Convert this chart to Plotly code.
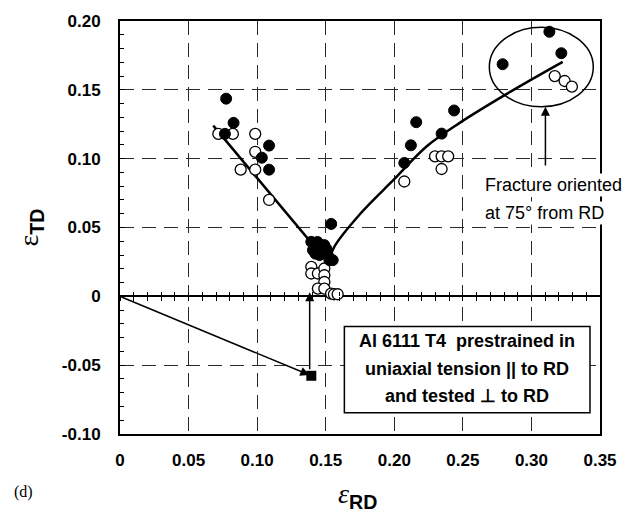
import plotly.graph_objects as go

# ---------------- data ----------------
filled_x = [0.0774, 0.0828, 0.0765, 0.1087, 0.1034, 0.1087, 0.1540,
            0.1395, 0.1431, 0.1467, 0.1490, 0.1515, 0.1551, 0.1407, 0.1490, 0.1527,
            0.1425, 0.1455, 0.1505, 0.1440,
            0.2790, 0.3131, 0.3218, 0.2160, 0.2436, 0.2345, 0.2121, 0.2073]
filled_y = [0.1436, 0.1260, 0.1180, 0.1095, 0.1007, 0.0920, 0.0526,
            0.0396, 0.0372, 0.0348, 0.0323, 0.0299, 0.0263, 0.0336, 0.0372, 0.0263,
            0.0310, 0.0300, 0.0345, 0.0395,
            0.1686, 0.1922, 0.1766, 0.1265, 0.1350, 0.1182, 0.1097, 0.0969]

open_x = [0.0717, 0.0823, 0.0986, 0.0986, 0.0880, 0.0986, 0.1087,
          0.1395, 0.1395, 0.1443, 0.1490, 0.1490, 0.1490, 0.1443, 0.1490, 0.1539, 0.1560, 0.1587,
          0.2073, 0.2297, 0.2345, 0.2393, 0.2345, 0.3170, 0.3242, 0.3295]
open_y = [0.1180, 0.1180, 0.1180, 0.1050, 0.0920, 0.0920, 0.0700,
          0.0214, 0.0166, 0.0166, 0.0202, 0.0153, 0.0104, 0.0056, 0.0056, 0.0020, 0.0015, 0.0015,
          0.0834, 0.1017, 0.1017, 0.1017, 0.0925, 0.1600, 0.1564, 0.1523]

left_fit_x = [0.068, 0.152]
left_fit_y = [0.124, 0.024]

right_fit_x = [0.152, 0.1563, 0.1756, 0.1996, 0.2237, 0.2477, 0.2814, 0.3228]
right_fit_y = [0.024, 0.0360, 0.0604, 0.0847, 0.1090, 0.1260, 0.1467, 0.1703]

prestrain_x = [0.1395]
prestrain_y = [-0.0577]

x_ticks = [0, 0.05, 0.10, 0.15, 0.20, 0.25, 0.30, 0.35]
x_labels = ["0", "0.05", "0.10", "0.15", "0.20", "0.25", "0.30", "0.35"]
y_ticks = [-0.10, -0.05, 0, 0.05, 0.10, 0.15, 0.20]
y_labels = ["-0.10", "-0.05", "0", "0.05", "0.10", "0.15", "0.20"]

box_lines = ["Al 6111 T4  prestrained in", "uniaxial tension || to RD", "and tested \u22a5 to RD"]
box_line_y = [-0.0322, -0.0529, -0.0723]
fracture_lines = ["Fracture oriented", "at 75\u00b0 from RD"]
fracture_line_y = [0.0810, 0.0606]

fracture_ellipse = dict(x0=0.2693, x1=0.3451, y0=0.1377, y1=0.1954)
info_box = dict(x0=0.1636, x1=0.3427, y0=-0.0845, y1=-0.0219)

# ---------------- figure ----------------
SANS = "Liberation Sans, Arial, sans-serif"
SERIF = "Liberation Serif, Times New Roman, serif"
TICKFONT = dict(family=SANS, size=17, color="black", weight="bold")

fig = go.Figure()

fig.add_trace(go.Scatter(x=left_fit_x, y=left_fit_y, mode="lines",
                         line=dict(color="black", width=2.5), showlegend=False, hoverinfo="skip"))
fig.add_trace(go.Scatter(x=right_fit_x, y=right_fit_y, mode="lines",
                         line=dict(color="black", width=2.5, shape="spline"),
                         showlegend=False, hoverinfo="skip"))
fig.add_trace(go.Scatter(x=open_x, y=open_y, mode="markers",
                         marker=dict(symbol="circle", size=11, color="white",
                                     line=dict(color="black", width=1.3)),
                         showlegend=False))
fig.add_trace(go.Scatter(x=filled_x, y=filled_y, mode="markers",
                         marker=dict(symbol="circle", size=11, color="black",
                                     line=dict(color="black", width=1)),
                         showlegend=False))
fig.add_trace(go.Scatter(x=prestrain_x, y=prestrain_y, mode="markers",
                         marker=dict(symbol="square", size=10, color="black"),
                         showlegend=False))
# invisible traces to register the zero-line tick axes
fig.add_trace(go.Scatter(x=[], y=[], xaxis="x2", yaxis="y", showlegend=False))
fig.add_trace(go.Scatter(x=[], y=[], xaxis="x3", yaxis="y", showlegend=False))

# ellipse around fracture points
fig.add_shape(type="circle", xref="x", yref="y", line=dict(color="black", width=1.5),
              **fracture_ellipse)
# info box
fig.add_shape(type="rect", xref="x", yref="y", line=dict(color="black", width=1.5),
              fillcolor="white", layer="above", **info_box)

box_cx = (info_box["x0"] + info_box["x1"]) / 2
for txt, yy in zip(box_lines, box_line_y):
    fig.add_annotation(x=box_cx, y=yy, xref="x", yref="y", showarrow=False, text=txt,
                       font=dict(family=SANS, size=18, color="black", weight="bold"))

for txt, yy in zip(fracture_lines, fracture_line_y):
    fig.add_annotation(x=0.2648, y=yy, xref="x", yref="y", showarrow=False, text=txt,
                       xanchor="left", font=dict(family=SANS, size=18, color="black"),
                       bgcolor="white", borderpad=1)

# arrows
fig.add_annotation(x=prestrain_x[0] - 0.0015, y=prestrain_y[0] + 0.0006, ax=0, ay=0,
                   xref="x", yref="y", axref="x", ayref="y", showarrow=True,
                   arrowhead=2, arrowsize=1.2, arrowwidth=1.5, arrowcolor="black", text="")
fig.add_annotation(x=prestrain_x[0] - 0.0012, y=0.003, ax=prestrain_x[0] - 0.0012, ay=-0.054,
                   xref="x", yref="y", axref="x", ayref="y", showarrow=True,
                   arrowhead=2, arrowsize=1.2, arrowwidth=1.5, arrowcolor="black", text="")
fig.add_annotation(x=0.3102, y=fracture_ellipse["y0"], ax=0.3102, ay=0.094,
                   xref="x", yref="y", axref="x", ayref="y", showarrow=True,
                   arrowhead=2, arrowsize=1.2, arrowwidth=1.5, arrowcolor="black", text="")

# axis titles and panel label
SUB = "<sub><span style='font-family:Liberation Sans, Arial, sans-serif;font-weight:bold'>%s</span></sub>"
fig.add_annotation(x=0.495, y=-0.150, xref="paper", yref="paper", showarrow=False,
                   xanchor="center", yanchor="middle",
                   text="<i>\u03b5</i>" + SUB % "RD",
                   font=dict(family=SERIF, size=28, color="black"))
fig.add_annotation(x=-0.1856, y=0.5, xref="paper", yref="paper", showarrow=False, textangle=-90,
                   xanchor="center", yanchor="middle",
                   text="\u03b5" + SUB % "TD",
                   font=dict(family=SERIF, size=28, color="black"))
fig.add_annotation(x=-0.202, y=-0.14, xref="paper", yref="paper", showarrow=False,
                   xanchor="center", yanchor="middle",
                   text="(d)", font=dict(family=SERIF, size=16, color="black"))

GRID = dict(showgrid=True, gridcolor="#2a2a2a", gridwidth=1, griddash="14px,8px")

fig.update_layout(
    width=629, height=513,
    margin=dict(l=120, r=24, t=20, b=79),
    paper_bgcolor="white", plot_bgcolor="white",
    showlegend=False,
    xaxis=dict(range=[0, 0.35], tickvals=x_ticks, ticktext=x_labels, tickfont=TICKFONT,
               ticks="", showline=True, linecolor="black", linewidth=2, mirror=True,
               zeroline=False, ticklabelstandoff=10, **GRID),
    yaxis=dict(range=[-0.10, 0.20], tickvals=y_ticks, ticktext=y_labels, tickfont=TICKFONT,
               ticks="inside", ticklen=5, tickcolor="black",
               minor=dict(ticks="inside", ticklen=4, dtick=0.01, tick0=0, tickcolor="black",
                          showgrid=False),
               showline=True, linecolor="black", linewidth=2, mirror=True,
               zeroline=True, zerolinecolor="black", zerolinewidth=1.5,
               ticklabelstandoff=14, **GRID),
    xaxis2=dict(range=[0, 0.35], overlaying="x", anchor="free", position=1/3, side="bottom",
                ticks="inside", ticklen=4, tickcolor="black", dtick=0.01, tick0=0,
                showticklabels=False, showgrid=False, zeroline=False, showline=False),
    xaxis3=dict(range=[0, 0.35], overlaying="x", anchor="free", position=1/3, side="bottom",
                ticks="outside", ticklen=4, tickcolor="black", dtick=0.01, tick0=0,
                showticklabels=False, showgrid=False, zeroline=False, showline=False),
)

# remove the page's default body margin so the 629x513 figure fills the window exactly
fig.write_html("out.html",
               config={"displayModeBar": False},
               post_script="document.body.style.margin='0';"
                           "document.documentElement.style.overflow='hidden';")
